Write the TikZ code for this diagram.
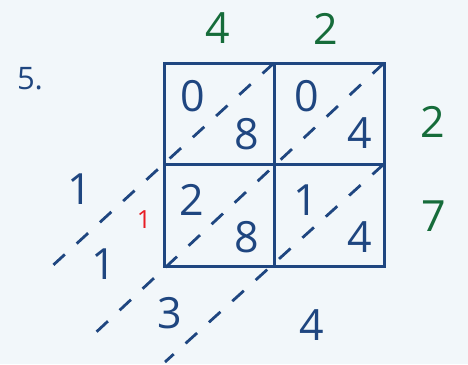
\documentclass[tikz,border=0pt]{standalone}
\usepackage{fontspec}
\setmainfont{Open Sans}
\usetikzlibrary{positioning}
\definecolor{latblue}{RGB}{31,70,128}
\definecolor{latgreen}{RGB}{22,108,58}
\definecolor{latred}{RGB}{232,28,36}
\definecolor{latbg}{RGB}{242,247,250}

\begin{document}
\begin{tikzpicture}[x=1pt,y=-1pt,
    digit/.style={text=latblue,inner sep=0pt,font=\fontsize{43}{43}\selectfont},
    factor/.style={digit,text=latgreen},
    carry/.style={inner sep=0pt,text=latred,font=\fontsize{25}{25}\selectfont},
    gridline/.style={draw=latblue,line width=3pt},
    diag/.style={draw=latblue,line width=2.8pt,dash pattern=on 15.5pt off 16pt}]
  % Hintergrund
  \fill[latbg] (0,0) rectangle (468,364);

  % Ecken des Gitters
  \coordinate (nw) at (164,63);
  \coordinate (nm) at (274,63);
  \coordinate (ne) at (384,63);
  \coordinate (mw) at (164,164);
  \coordinate (me) at (384,164);
  \coordinate (sm) at (274,266);
  \coordinate (se) at (384,266);
  % Enden der Diagonalen
  \coordinate (endb) at (50,268);
  \coordinate (enda) at (91,337);
  \coordinate (endc) at (165,362);

  % Diagonalen (gestrichelt)
  \draw[diag] (nm) -- (endb);
  \draw[diag] (ne) -- (enda);
  \draw[diag] (me) -- (endc);

  % Gitter 2x2
  \draw[gridline] (nw) rectangle (se);
  \draw[gridline] (nm) -- (sm);
  \draw[gridline] (mw) -- (me);

  % Nummer der Aufgabe
  \node[inner sep=0pt,text=latblue,font=\fontsize{31}{31}\selectfont] (nr) at (30,79) {5.};

  % Faktoren
  \node[factor] (fa) at (218,28) {4};
  \node[factor] (fb) at (326,29) {2};
  \node[factor] (fc) at (433,122) {2};
  \node[factor] (fd) at (434,216) {7};

  % Teilprodukte in den Zellen
  \node[digit] (t11) at (193,96) {0};
  \node[digit] (u11) at (247,134) {8};
  \node[digit] (t12) at (307,96) {0};
  \node[digit] (u12) at (360,133) {4};
  \node[digit] (t21) at (192,200) {2};
  \node[digit] (u21) at (247,237) {8};
  \node[digit] (t22) at (306,200) {1};
  \node[digit] (u22) at (360,237) {4};

  % Ergebnis
  \node[digit] (ra) at (80,189) {1};
  \node[digit] (rb) at (104,264) {1};
  \node[carry] (cy) at (144,220) {1};
  \node[digit] (rc) at (170,313) {3};
  \node[digit] (rd) at (312,325) {4};
\end{tikzpicture}
\end{document}
